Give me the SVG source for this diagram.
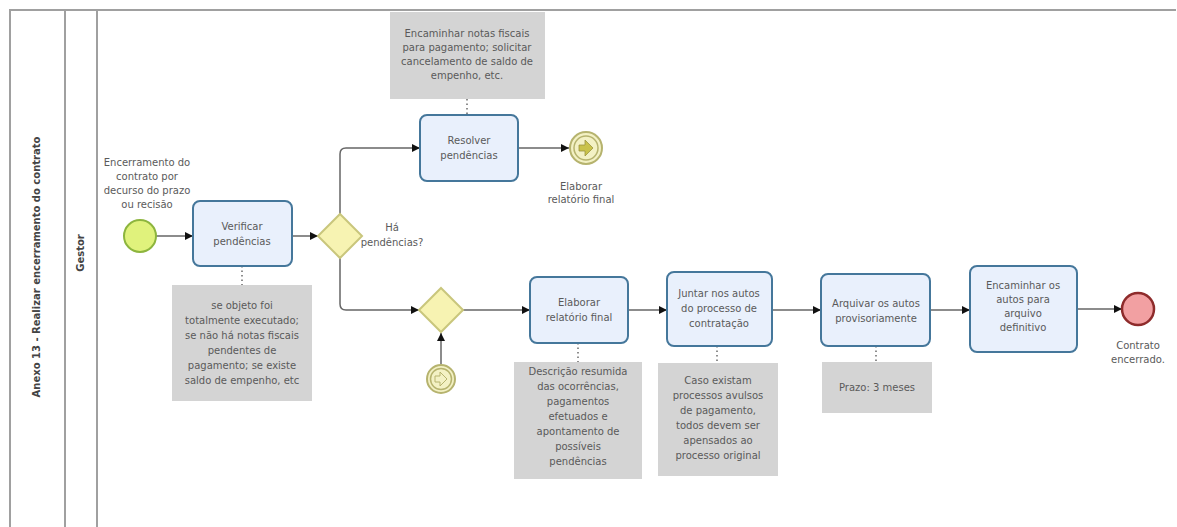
<svg xmlns="http://www.w3.org/2000/svg" width="1177" height="527" viewBox="0 0 1177 527">
<style>
text{font-family:"DejaVu Sans","Liberation Sans",sans-serif;font-size:10px;fill:#5a5a5a;text-anchor:middle}
.lane{stroke:#a0a0a0;stroke-width:2;fill:none}
.task{fill:#e9f0fc;stroke:#45779b;stroke-width:2}
.gw{fill:#f7f3b2;stroke:#c9c67c;stroke-width:2}
.ann{fill:#d4d4d4;stroke:none}
.flow{stroke:#666;stroke-width:1.5;fill:none;marker-end:url(#arr)}
.assoc{stroke:#444;stroke-width:1.2;fill:none;stroke-dasharray:1.5 3}
.b{font-weight:bold;fill:#444}
</style>
<defs>
<marker id="arr" viewBox="0 0 10 10" refX="10" refY="5" markerWidth="8" markerHeight="8" markerUnits="userSpaceOnUse" orient="auto">
<path d="M0,0 L10,5 L0,10 z" fill="#111"/>
</marker>
</defs>
<rect width="1177" height="527" fill="#fff"/>
<g id="pool">
<path class="lane" d="M10,527 V10 H1176"/>
<line class="lane" x1="65" y1="10" x2="65" y2="527"/>
<line class="lane" x1="97" y1="10" x2="97" y2="527"/>
<text class="b" transform="translate(40,267) rotate(-90)">Anexo 13 - Realizar encerramento do contrato</text>
<text class="b" transform="translate(84,253) rotate(-90)">Gestor</text>
</g>
<g id="connectors">
<line class="flow" x1="156" y1="236" x2="193" y2="236"/>
<line class="flow" x1="292" y1="236" x2="318" y2="236"/>
<path class="flow" d="M340,214 V154 Q340,148 346,148 H420"/>
<path class="flow" d="M340,258 V304 Q340,310 346,310 H419"/>
<line class="flow" x1="518" y1="148" x2="569" y2="148"/>
<line class="flow" x1="441" y1="364" x2="441" y2="333"/>
<line class="flow" x1="463" y1="310" x2="530" y2="310"/>
<line class="flow" x1="628" y1="310" x2="667" y2="310"/>
<line class="flow" x1="772" y1="310" x2="821" y2="310"/>
<line class="flow" x1="930" y1="310" x2="970" y2="310"/>
<line class="flow" x1="1077" y1="309" x2="1122" y2="309"/>
<line class="assoc" x1="242" y1="266" x2="242" y2="285"/>
<line class="assoc" x1="467" y1="99" x2="467" y2="114"/>
<line class="assoc" x1="578" y1="343" x2="578" y2="362"/>
<line class="assoc" x1="717" y1="346" x2="717" y2="363"/>
<line class="assoc" x1="876" y1="346" x2="876" y2="362"/>
</g>
<g id="start">
<circle cx="140" cy="236" r="16" fill="#e0f27c" stroke="#8db53e" stroke-width="2"/>
<text x="147" y="166">Encerramento do</text>
<text x="147" y="180">contrato por</text>
<text x="147" y="194">decurso do prazo</text>
<text x="147" y="208">ou recisão</text>
</g>
<g id="verificar">
<rect class="task" x="193" y="201" width="99" height="65" rx="7"/>
<text x="242" y="230">Verificar</text>
<text x="242" y="245">pendências</text>
</g>
<g id="ann-verificar">
<rect class="ann" x="172" y="285" width="140" height="116"/>
<text x="242" y="309">se objeto foi</text>
<text x="242" y="324">totalmente executado;</text>
<text x="242" y="339">se não há notas fiscais</text>
<text x="242" y="354">pendentes de</text>
<text x="242" y="369">pagamento; se existe</text>
<text x="242" y="384">saldo de empenho, etc</text>
</g>
<g id="gw1">
<path class="gw" d="M340,214 L362,236 L340,258 L318,236 z"/>
<text x="392" y="231">Há</text>
<text x="392" y="246">pendências?</text>
</g>
<g id="resolver">
<rect class="task" x="420" y="115" width="98" height="66" rx="7"/>
<text x="469" y="144">Resolver</text>
<text x="469" y="159">pendências</text>
</g>
<g id="ann-resolver">
<rect class="ann" x="390" y="12" width="155" height="87"/>
<text x="467" y="37">Encaminhar notas fiscais</text>
<text x="467" y="51">para pagamento; solicitar</text>
<text x="467" y="65">cancelamento de saldo de</text>
<text x="467" y="79">empenho, etc.</text>
</g>
<g id="link-throw">
<circle cx="586" cy="148" r="16" fill="#f3f1c4" stroke="#b6b36e" stroke-width="2"/>
<circle cx="586" cy="148" r="12" fill="none" stroke="#b6b36e" stroke-width="1.5"/>
<path d="M579,145 H585 V140 L593,148 L585,156 V151 H579 z" fill="#c9c24a" stroke="#9c9640" stroke-width="0.8"/>
<text x="581" y="190">Elaborar</text>
<text x="581" y="203">relatório final</text>
</g>
<g id="gw2">
<path class="gw" d="M441,288 L463,310 L441,332 L419,310 z"/>
</g>
<g id="link-catch">
<circle cx="441" cy="379" r="14" fill="#f3f1c4" stroke="#b6b36e" stroke-width="2"/>
<circle cx="441" cy="379" r="10.5" fill="none" stroke="#b6b36e" stroke-width="1.5"/>
<path d="M435,376 H440 V372 L447,379 L440,386 V382 H435 z" fill="none" stroke="#b6b36e" stroke-width="1"/>
</g>
<g id="elaborar">
<rect class="task" x="530" y="277" width="98" height="66" rx="7"/>
<text x="579" y="306">Elaborar</text>
<text x="579" y="321">relatório final</text>
</g>
<g id="ann-elaborar">
<rect class="ann" x="514" y="362" width="128" height="117"/>
<text x="578" y="375">Descrição resumida</text>
<text x="578" y="390">das ocorrências,</text>
<text x="578" y="405">pagamentos</text>
<text x="578" y="420">efetuados e</text>
<text x="578" y="435">apontamento de</text>
<text x="578" y="450">possíveis</text>
<text x="578" y="465">pendências</text>
</g>
<g id="juntar">
<rect class="task" x="667" y="272" width="105" height="74" rx="7"/>
<text x="719" y="297">Juntar nos autos</text>
<text x="719" y="312">do processo de</text>
<text x="719" y="327">contratação</text>
</g>
<g id="ann-juntar">
<rect class="ann" x="658" y="363" width="120" height="113"/>
<text x="718" y="384">Caso existam</text>
<text x="718" y="399">processos avulsos</text>
<text x="718" y="414">de pagamento,</text>
<text x="718" y="429">todos devem ser</text>
<text x="718" y="444">apensados ao</text>
<text x="718" y="459">processo original</text>
</g>
<g id="arquivar">
<rect class="task" x="821" y="274" width="109" height="72" rx="7"/>
<text x="876" y="307">Arquivar os autos</text>
<text x="876" y="322">provisoriamente</text>
</g>
<g id="ann-arquivar">
<rect class="ann" x="822" y="362" width="110" height="51"/>
<text x="877" y="391">Prazo: 3 meses</text>
</g>
<g id="encaminhar">
<rect class="task" x="970" y="266" width="107" height="86" rx="7"/>
<text x="1023" y="289">Encaminhar os</text>
<text x="1023" y="303">autos para</text>
<text x="1023" y="317">arquivo</text>
<text x="1023" y="331">definitivo</text>
</g>
<g id="end">
<circle cx="1138" cy="309" r="16" fill="#f2a0a2" stroke="#8e2b2b" stroke-width="2.5"/>
<text x="1138" y="349">Contrato</text>
<text x="1138" y="363">encerrado.</text>
</g>
</svg>
